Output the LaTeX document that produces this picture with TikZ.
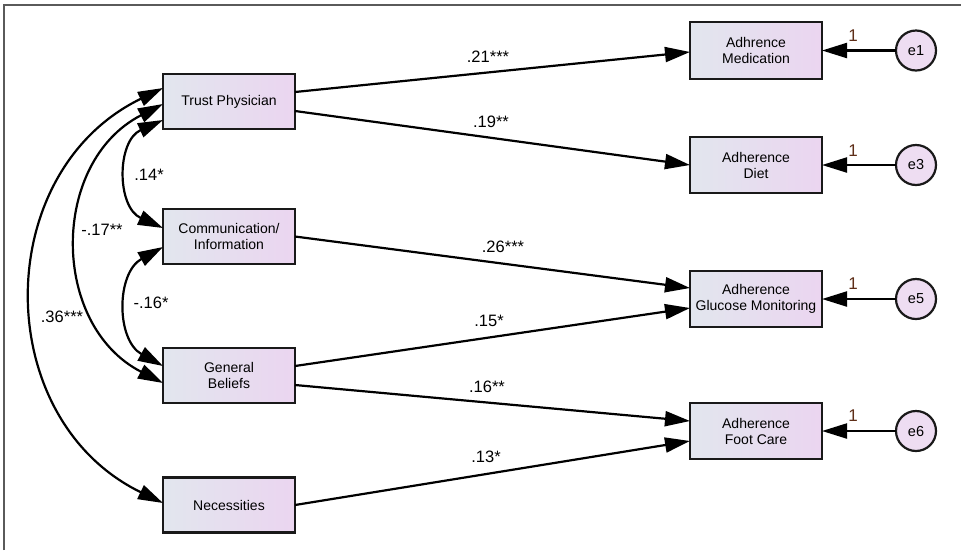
\documentclass[tikz,border=0pt]{standalone}
\usepackage{fontspec}
\setmainfont{Liberation Sans}
\usetikzlibrary{arrows.meta,calc}
\definecolor{boxL}{HTML}{E2E6EE}
\definecolor{boxR}{HTML}{EBD5F0}
\definecolor{errfill}{HTML}{EEDDF2}
\definecolor{onecol}{HTML}{5E2E18}
\definecolor{framecol}{HTML}{5A5A5A}
\begin{document}
\begin{tikzpicture}[x=1pt,y=-1pt,
  varbox/.style={draw=black!90,line width=2.4pt,left color=boxL,right color=boxR,
    minimum width=132pt,minimum height=55pt,inner sep=0pt,outer sep=0pt,
    align=center,font=\fontsize{14}{16}\selectfont},
  errc/.style={draw=black!90,line width=2.2pt,fill=errfill,circle,minimum size=40pt,
    inner sep=0pt,outer sep=0pt,font=\fontsize{14.5}{16}\selectfont},
  path/.style={line width=2.2pt,-{Triangle[length=25pt,width=15pt]}},
  cov/.style={line width=2.2pt,{Triangle[length=25pt,width=15pt]}-{Triangle[length=25pt,width=15pt]}},
  coef/.style={font=\fontsize{16.5}{19}\selectfont,inner sep=0pt},
  one/.style={font=\fontsize{17}{19}\selectfont,text=onecol,inner sep=0pt}]
\useasboundingbox (0,0) rectangle (961,550);
\draw[framecol,line width=1.6pt] (4,550) -- (4,5) -- (961,5);
% left variables
\node[varbox] (trust) at (229,101.5) {Trust Physician};
\node[varbox] (comm) at (229,236.5) {Communication/\\Information};
\node[varbox] (gb) at (229,375.5) {General\\Beliefs};
\node[varbox] (nec) at (229,505) {Necessities};
% right variables
\node[varbox,minimum height=57pt] (med) at (756,50.5) {Adhrence\\Medication};
\node[varbox,minimum height=56pt] (diet) at (756,165) {Adherence\\Diet};
\node[varbox,minimum height=56pt] (gluc) at (756,299) {Adherence\\Glucose Monitoring};
\node[varbox,minimum height=56pt] (foot) at (756,431) {Adherence\\Foot Care};
% errors
\node[errc] (e1) at (916,50.5) {e1};
\node[errc] (e3) at (916,165) {e3};
\node[errc] (e5) at (916,299) {e5};
\node[errc] (e6) at (916,431) {e6};
\draw[path] (e1) -- (med);
\draw[path] (e3) -- (diet);
\draw[path] (e5) -- (gluc);
\draw[path] (e6) -- (foot);
\node[one] (o1) at (853,36) {1};
\node[one] (o3) at (853,151) {1};
\node[one] (o5) at (853,284) {1};
\node[one] (o6) at (853,416) {1};
% regression paths
\draw[path] ($(trust.east)+(0,-9.5)$) -- ($(med.west)+(0,1.5)$);
\draw[path] ($(trust.east)+(0,9.5)$) -- (diet.west);
\draw[path] (comm.east) -- ($(gluc.west)+(0,-11)$);
\draw[path] ($(gb.east)+(0,-9.5)$) -- ($(gluc.west)+(0,9)$);
\draw[path] ($(gb.east)+(0,9.5)$) -- ($(foot.west)+(0,-10)$);
\draw[path] (nec.east) -- ($(foot.west)+(0,10)$);
\node[coef] (c21) at (488,57) {.21***};
\node[coef] (c19) at (491,122) {.19**};
\node[coef] (c26) at (503,247) {.26***};
\node[coef] (c15) at (489,321) {.15*};
\node[coef] (c16) at (487,387) {.16**};
\node[coef] (c13) at (486,457) {.13*};
% covariances
\draw[cov] ($(trust.west)+(0,-13.5)$) .. controls +(-173,84) and +(-173,-84) .. ($(nec.west)+(0,-2)$);
\draw[cov] ($(trust.west)+(0,2.5)$) .. controls +(-113,58) and +(-113,-58) .. ($(gb.west)+(0,7.5)$);
\draw[cov] ($(trust.west)+(0,18.5)$) .. controls +(-46.5,21) and +(-46.5,-21) .. ($(comm.west)+(0,-8.5)$);
\draw[cov] ($(comm.west)+(0,10.5)$) .. controls +(-47,26) and +(-47,-26) .. ($(gb.west)+(0,-9.5)$);
\node[coef] (c14) at (149,175) {.14*};
\node[coef] (c17) at (102,230) {-.17**};
\node[coef] (cm16) at (151,303) {-.16*};
\node[coef] (c36) at (62,317) {.36***};
\end{tikzpicture}
\end{document}
